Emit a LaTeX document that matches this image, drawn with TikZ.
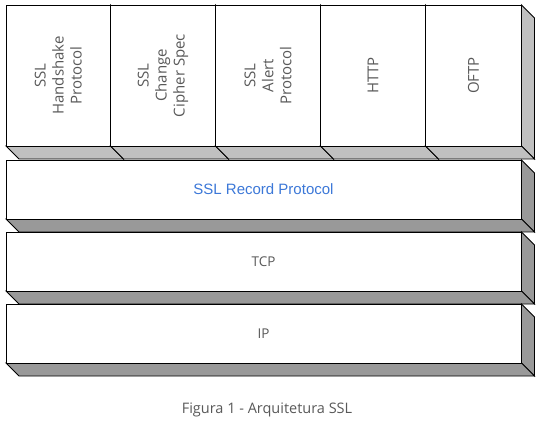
\documentclass[tikz,border=0pt]{standalone}
\usepackage{fontspec}
\setmainfont{Open Sans}
\newfontfamily\recordfont{Liberation Sans}
\usetikzlibrary{calc}
\definecolor{labelgray}{HTML}{595959}
\definecolor{recordblue}{HTML}{3C78D8}
\definecolor{lightside}{HTML}{C0C0C0}
\definecolor{darkside}{HTML}{999999}
\tikzstyle{face}=[draw=black,line width=0.9pt,line join=miter]
\tikzstyle{layerlabel}=[text=labelgray,font=\fontsize{13.5}{17.5}\selectfont]
\tikzstyle{stacklabel}=[text=labelgray,font=\fontsize{15}{18}\selectfont,rotate=90,align=center]
\tikzstyle{recordlabel}=[text=recordblue,font=\recordfont\fontsize{15}{17}\selectfont]
\tikzstyle{captionlabel}=[text=labelgray,font=\fontsize{14.5}{17}\selectfont]

% slab: left, top, right, bottom, colour of the hidden faces
\newcommand{\layerslab}[5]{%
  \path[face,fill=#5] (#3,#2) -- (#3+13,#2+13) -- (#3+13,#4+13) -- (#3,#4) -- cycle;
  \path[face,fill=#5] (#1,#4) -- (#3,#4) -- (#3+13,#4+13) -- (#1+13,#4+13) -- cycle;
  \path[face,fill=white] (#1,#2) rectangle (#3,#4);
}

\begin{document}
\begin{tikzpicture}[x=1pt,y=-1pt]
    \useasboundingbox (0,0) rectangle (545,427);

    % upper protocols, side by side
    \foreach \xa/\xb/\name/\txt in {6/110.5/hs/{SSL\\Handshake\\Protocol},
        110.5/215.5/ccs/{SSL\\Change\\Cipher Spec}, 215.5/320.5/alert/{SSL\\Alert\\Protocol},
        320.5/425.5/http/{HTTP}, 425.5/521.5/oftp/{OFTP}}
    {
        \layerslab{\xa}{5}{\xb}{146}{lightside}
        \node[stacklabel] (\name) at ({(\xa+\xb)/2},75.5) {\txt};
    }

    % lower layers
    \layerslab{6}{160}{521.5}{219}{darkside}
    \node[recordlabel] (record) at (263.5,189.5) {SSL Record Protocol};

    \layerslab{6}{232}{521.5}{291}{darkside}
    \node[layerlabel] (tcp) at (263.5,261.5) {TCP};

    \layerslab{6}{304}{521.5}{363}{darkside}
    \node[layerlabel] (ip) at (263.5,333.5) {IP};

    \node[captionlabel] (caption) at (267,410) {Figura 1 - Arquitetura SSL};
\end{tikzpicture}
\end{document}
